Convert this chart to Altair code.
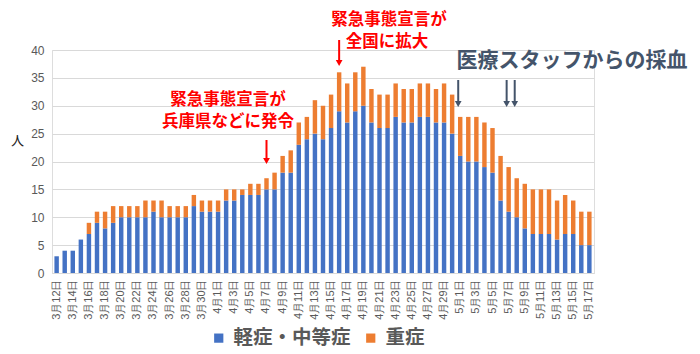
import altair as alt
import pandas as pd
import datetime as dt

FONT = "Noto Sans CJK JP"

# ---- data ----
start = dt.date(2020, 3, 12)
dates = [f"{(start + dt.timedelta(days=i)).month}月{(start + dt.timedelta(days=i)).day}日" for i in range(67)]

mild = [3, 4, 4, 6, 7, 9, 8, 9, 10, 10, 10, 10, 11, 10, 10, 10, 10, 12, 11, 11,
        11, 13, 13, 14, 14, 14, 15, 15, 18, 18, 23, 24, 25, 24, 26, 29, 27, 29, 30, 27,
        26, 26, 28, 27, 27, 28, 28, 27, 27, 25,
        21, 20, 20, 19, 18, 13, 11, 10, 8, 7, 7, 7, 6, 7, 7, 5, 5]
total = [3, 4, 4, 6, 9, 11, 11, 12, 12, 12, 12, 13, 13, 13, 12, 12, 12, 14, 13, 13,
         13, 15, 15, 15, 16, 16, 17, 18, 21, 22, 27, 28, 31, 30, 32, 36, 34, 36, 37, 33,
         32, 32, 34, 33, 33, 34, 34, 33, 34, 32,
         28, 28, 28, 27, 26, 21, 19, 17, 16, 15, 15, 15, 13, 14, 13, 11, 11]
severe = [t - m for t, m in zip(total, mild)]

series_names = ["軽症・中等症", "重症"]
series_colors = ["#4472C4", "#ED7D31"]
tick_labels = dates[::2]

red_arrow_dates = ["4月7日", "4月16日"]
dark_arrow_dates = ["5月1日", "5月7日", "5月8日"]

rows = []
for d, m, s in zip(dates, mild, severe):
    rows.append({"date": d, "series": series_names[0], "value": m, "order": 0})
    rows.append({"date": d, "series": series_names[1], "value": s, "order": 1})
df = pd.DataFrame(rows)

W, H = 542, 223

xscale = alt.Scale(domain=dates, paddingInner=0.45, paddingOuter=0.3)

bars = alt.Chart(df).mark_bar().encode(
    x=alt.X("date:N", sort=dates, scale=xscale, title=None,
            axis=alt.Axis(values=tick_labels, labelAngle=-90, labelFontSize=11,
                          labelColor="#595959", labelFont="Liberation Sans", ticks=False,
                          domainColor="#D9D9D9", labelPadding=6, grid=False)),
    y=alt.Y("value:Q", stack="zero",
            scale=alt.Scale(domain=[0, 40], nice=False),
            axis=alt.Axis(values=list(range(0, 41, 5)), domain=False, ticks=False,
                          labelFontSize=12, labelColor="#595959", labelFont="Liberation Sans",
                          gridColor="#D9D9D9", labelPadding=8,
                          title="人", titleAngle=0, titleX=-35, titleY=90,
                          titleFontSize=13, titleFontWeight="normal", titleColor="#222222",
                          titleFont=FONT, titleAlign="center", titleBaseline="middle")),
    color=alt.Color("series:N", sort=series_names,
                    scale=alt.Scale(domain=series_names, range=series_colors),
                    legend=alt.Legend(title=None, orient="none", legendX=157, legendY=278,
                                      direction="horizontal", symbolType="square",
                                      symbolSize=85, symbolStrokeWidth=0,
                                      labelFontSize=19.5, labelFontWeight="bold",
                                      labelColor="#595959", labelFont=FONT,
                                      columnPadding=10, labelOffset=5)),
    order=alt.Order("order:Q", sort="ascending"),
)

layers = [bars]
for d, y0, y1 in [("4月7日", 90, 108), ("4月16日", -10, 10)]:
    one = pd.DataFrame({"date": [d]})
    layers.append(alt.Chart(one).mark_rule(color="#FF0000", strokeWidth=2).encode(
        x=alt.X("date:N", sort=dates, scale=xscale), y=alt.value(y0), y2=alt.value(y1)))
    layers.append(alt.Chart(one).mark_point(shape="triangle-down", filled=True, size=45,
                                            color="#FF0000", opacity=1).encode(
        x=alt.X("date:N", sort=dates, scale=xscale), y=alt.value(y1 + 3)))
for d in dark_arrow_dates:
    one = pd.DataFrame({"date": [d]})
    layers.append(alt.Chart(one).mark_rule(color="#44546A", strokeWidth=2, xOffset=-2).encode(
        x=alt.X("date:N", sort=dates, scale=xscale), y=alt.value(30), y2=alt.value(51)))
    layers.append(alt.Chart(one).mark_point(shape="triangle-down", filled=True, size=45,
                                            color="#44546A", opacity=1, xOffset=-2).encode(
        x=alt.X("date:N", sort=dates, scale=xscale), y=alt.value(54)))

def label(text, x, y, color, size):
    return alt.Chart(pd.DataFrame({"t": [text]})).mark_text(
        font=FONT, fontSize=size, fontWeight="bold", color=color,
        align="center", baseline="middle").encode(
        text="t:N", x=alt.value(x), y=alt.value(y))

layers += [
    label("緊急事態宣言が", 337, -30, "#FF0000", 16.5),
    label("全国に拡大", 335, -8, "#FF0000", 16.5),
    label("緊急事態宣言が", 176, 50, "#FF0000", 16.5),
    label("兵庫県などに発令", 176, 72, "#FF0000", 16.5),
    label("医療スタッフからの採血", 520, 11, "#44546A", 21),
]

chart = alt.layer(*layers).properties(
    width=W, height=H,
    autosize=alt.AutoSizeParams(type="none"),
    padding={"left": 52, "top": 50, "right": 106, "bottom": 81},
).configure_view(stroke=None).configure(font=FONT)

chart.save("out.html", embed_options={"renderer": "svg", "actions": False})
